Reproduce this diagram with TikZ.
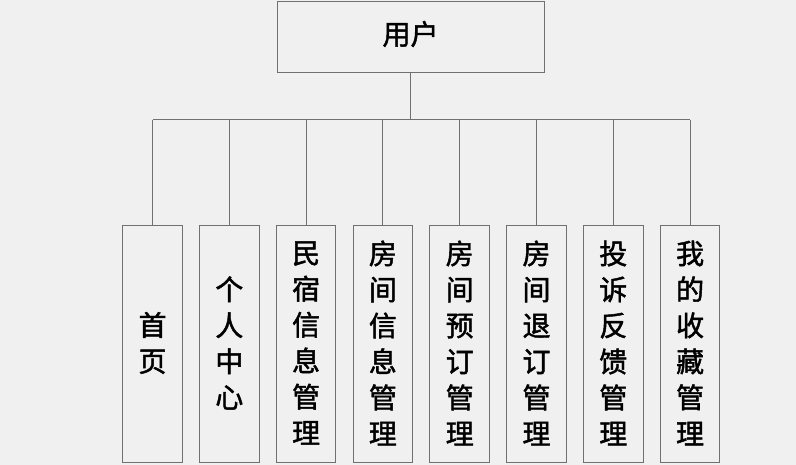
\documentclass[tikz,border=0pt]{standalone}
\usepackage{fontspec}
\setmainfont[FakeBold=1.6,AutoFakeBold=1.6]{Noto Sans CJK SC}
\begin{document}
\begin{tikzpicture}[x=1pt,y=-1pt,
  box/.style={draw=linegray,line width=1pt,fill=bg,inner sep=0pt},
  conn/.style={draw=linegray,line width=1pt},
  lbl/.style={font=\fontsize{28}{36}\selectfont\bfseries,align=center,inner sep=0pt}]
\definecolor{bg}{HTML}{F0F0F0}
\definecolor{linegray}{HTML}{707070}
\fill[bg] (0,0) rectangle (796,465);
\useasboundingbox (0,0) rectangle (796,465);
\node[box,minimum width=267pt,minimum height=71pt] (root) at (410.5,37.5) {};
\node[lbl] at (410.5,34) {用户};
\coordinate (bus) at (410.5,120);
\foreach \i/\x/\t in {1/152.5/{首\\页},2/229.3/{个\\人\\中\\心},3/306.1/{民\\宿\\信\\息\\管\\理},4/382.9/{房\\间\\信\\息\\管\\理},5/459.7/{房\\间\\预\\订\\管\\理},6/536.5/{房\\间\\退\\订\\管\\理},7/613.3/{投\\诉\\反\\馈\\管\\理},8/690.1/{我\\的\\收\\藏\\管\\理}}{
  \node[box,minimum width=59.5pt,minimum height=236pt] (c\i) at (\x,344) {};
  \node[lbl] at (\x,343) {\t};
  \coordinate (t\i) at (\x,120);
  \draw[conn] (t\i) -- (c\i.north);
}
\draw[conn] (root.south) -- (bus);
\draw[conn] (t1) -- (t8);
\end{tikzpicture}
\end{document}
